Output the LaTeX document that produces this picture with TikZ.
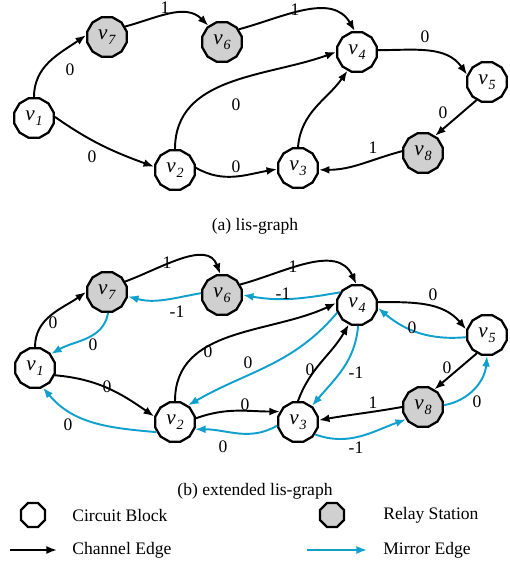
\documentclass[tikz,border=0pt]{standalone}
\usepackage{fontspec}
\setmainfont{Liberation Serif}
\usetikzlibrary{shapes.geometric,arrows.meta}
\definecolor{mirror}{RGB}{16,160,205}
\definecolor{relay}{RGB}{208,208,208}
\tikzset{
  blk/.style={regular polygon, regular polygon sides=12, draw, line width=1.3pt,
    minimum size=0.82cm, inner sep=0pt, fill=white, font=\fontsize{12}{12}\selectfont},
  rly/.style={blk, fill=relay},
  chan/.style={line width=1.1pt, -{Latex[length=6pt,width=4.5pt]}},
  mir/.style={chan, draw=mirror},
  lbl/.style={font=\fontsize{10}{10}\selectfont, inner sep=0pt},
  captext/.style={font=\fontsize{10}{12}\selectfont, inner sep=0pt},
  leg/.style={font=\fontsize{10}{12}\selectfont, inner sep=0pt, anchor=west},
}
\newcommand\vlab[1]{\textit{v}\kern0.6pt\raisebox{-3pt}{\fontsize{8}{8}\selectfont\textit{#1}}}
\begin{document}
\begin{tikzpicture}[x=0.02cm,y=0.02cm]
\useasboundingbox (0,0) rectangle (510,565);

% ---------- (a) lis-graph ----------
\node[blk] (a1) at (34,447) {\vlab{1}};
\node[rly] (a7) at (107,528) {\vlab{7}};
\node[rly] (a6) at (222,523) {\vlab{6}};
\node[blk] (a2) at (175,395) {\vlab{2}};
\node[blk] (a4) at (357,513) {\vlab{4}};
\node[blk] (a5) at (487,483) {\vlab{5}};
\node[rly] (a8) at (423,412) {\vlab{8}};
\node[blk] (a3) at (298,397) {\vlab{3}};

\draw[chan] (a1.north) to[out=90,in=215] (a7.175);
\draw[chan] (a7.30) to[out=15,in=135] (a6.130);
\draw[chan] (a6.37) to[out=15,in=120] (a4.96);
\draw[chan] (a1.3) to[out=-35,in=160] (a2.171);
\draw[chan] (a2.north) to[out=90,in=200] (a4.180);
\draw[chan] (a2.6) to[out=-30,in=190] (a3.183);
\draw[chan] (a3.north) to[out=85,in=235] (a4.243);
\draw[chan] (a4.5) to[out=0,in=125] (a5.160);
\draw[chan] (a5.240) -- (a8.55);
\draw[chan] (a8.175) to[out=195,in=0] (a3.-5);

\node[lbl] (la1) at (70,495) {0};
\node[lbl] (la2) at (165,557) {1};
\node[lbl] (la3) at (295,555) {1};
\node[lbl] (la4) at (92,408) {0};
\node[lbl] (la5) at (236,460) {0};
\node[lbl] (la6) at (236,398) {0};
\node[lbl] (la7) at (425,528) {0};
\node[lbl] (la8) at (443,452) {0};
\node[lbl] (la9) at (373,417) {1};

\node[captext] (capa) at (255,339) {(a) lis-graph};

% ---------- (b) extended lis-graph ----------
\node[blk] (b1) at (35,197) {\vlab{1}};
\node[rly] (b7) at (107,273) {\vlab{7}};
\node[rly] (b6) at (222,270) {\vlab{6}};
\node[blk] (b2) at (175,143) {\vlab{2}};
\node[blk] (b4) at (357,260) {\vlab{4}};
\node[blk] (b5) at (487,230) {\vlab{5}};
\node[rly] (b8) at (423,158) {\vlab{8}};
\node[blk] (b3) at (298,143) {\vlab{3}};

% channel edges
\draw[chan] (b1.north) to[out=90,in=215] (b7.180);
\draw[chan] (b7.30) to[out=20,in=110] (b6.95);
\draw[chan] (b6.30) to[out=15,in=115] (b4.92);
\draw[chan] (b1.-20) to[out=-5,in=145] (b2.165);
\draw[chan] (b2.north) to[out=90,in=205] (b4.175);
\draw[chan] (b2.10) to[out=20,in=180] (b3.150);
\draw[chan] (b3.north) to[out=70,in=240] (b4.247);
\draw[chan] (b4.8) to[out=0,in=130] (b5.165);
\draw[chan] (b5.241) -- (b8.57);
\draw[chan] (b8.180) to[out=190,in=10] (b3.5);

% mirror edges
\draw[mir] (b6.175) to[out=190,in=-15] (b7.-12);
\draw[mir] (b4.143) to[out=190,in=-10] (b6.0);
\draw[mir] (b7.-87) to[out=-100,in=30] (b1.41);
\draw[mir] (b2.209) to[out=175,in=-50] (b1.-68);
\draw[mir] (b4.201) to[out=230,in=30] (b2.52);
\draw[mir] (b3.190) to[out=210,in=0] (b2.-20);
\draw[mir] (b4.-87) to[out=-95,in=50] (b3.49);
\draw[mir] (b5.186) to[out=185,in=-40] (b4.-8);
\draw[mir] (b8.5) to[out=10,in=-95] (b5.-90);
\draw[mir] (b3.-36) to[out=-20,in=200] (b8.216);

\node[lbl] (lb1) at (53,242) {0};
\node[lbl] (lb2) at (167,302) {1};
\node[lbl] (lb3) at (293,298) {1};
\node[lbl] (lb4) at (107,178) {0};
\node[lbl] (lb5) at (208,213) {0};
\node[lbl] (lb6) at (245,160) {0};
\node[lbl] (lb7) at (310,195) {0};
\node[lbl] (lb8) at (433,270) {0};
\node[lbl] (lb9) at (447,197) {0};
\node[lbl] (lb10) at (373,162) {1};

\node[lbl] (lm1) at (177,253) {-1};
\node[lbl] (lm2) at (283,271) {-1};
\node[lbl] (lm3) at (93,220) {0};
\node[lbl] (lm4) at (68,140) {0};
\node[lbl] (lm5) at (248,202) {0};
\node[lbl] (lm6) at (223,118) {0};
\node[lbl] (lm7) at (356,192) {-1};
\node[lbl] (lm8) at (412,237) {0};
\node[lbl] (lm9) at (477,163) {0};
\node[lbl] (lm10) at (356,117) {-1};

\node[captext] (capb) at (255,74) {(b) extended lis-graph};

% ---------- legend ----------
\node[blk, regular polygon sides=8, minimum size=0.52cm] (kcb) at (33,50) {};
\node[leg] (tcb) at (72,50) {Circuit Block};
\node[rly, regular polygon sides=8, minimum size=0.52cm] (krs) at (332,50) {};
\node[leg] (trs) at (383,50) {Relay Station};
\coordinate (kc0) at (10,15);
\coordinate (kc1) at (57,15);
\draw[chan] (kc0) -- (kc1);
\node[leg] (tce) at (72,15) {Channel Edge};
\coordinate (km0) at (307,15);
\coordinate (km1) at (367,15);
\draw[mir] (km0) -- (km1);
\node[leg] (tme) at (383,15) {Mirror Edge};
\end{tikzpicture}
\end{document}
